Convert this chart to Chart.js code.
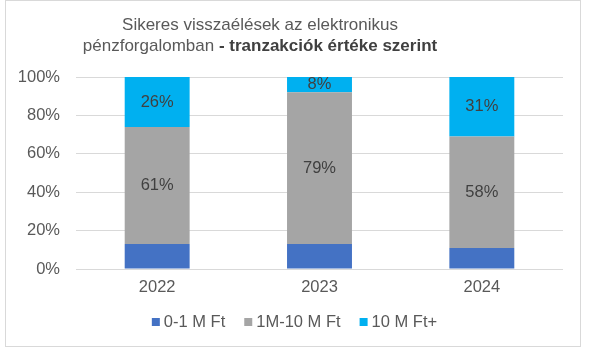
<!DOCTYPE html>
<html>
<head>
<meta charset="utf-8">
<script src="https://cdn.jsdelivr.net/npm/chart.js@4"></script>
<style>
  html, body { margin: 0; padding: 0; background: #fff; }
  #wrap { position: relative; width: 589px; height: 351px; }
</style>
</head>
<body>
<div id="wrap"><canvas id="c" width="589" height="351"></canvas></div>
<script>
const years = ['2022', '2023', '2024'];
const small = [13, 13, 11];
const middle = [61, 79, 58];
const large = [26, 8, 31];
const seriesNames = ['0-1 M Ft', '1M-10 M Ft', '10 M Ft+'];
const yTicks = [0, 20, 40, 60, 80, 100];

const FONT = "'Liberation Sans', Arial, sans-serif";
const SIZE = 16.5;

// border, two-part title and a compact legend
const frame = {
    id: 'frame',
    beforeDraw(chart) {
        const ctx = chart.ctx;
        ctx.save();
        ctx.fillStyle = '#fff';
        ctx.fillRect(0, 0, chart.width, chart.height);
        ctx.strokeStyle = '#d9d9d9';
        ctx.lineWidth = 1;
        ctx.strokeRect(5.5, 0.5, 575, 346);
        ctx.restore();
    },
    afterDraw(chart) {
        const ctx = chart.ctx;
        const cx = 260;
        ctx.save();
        ctx.fillStyle = '#595959';
        ctx.textBaseline = 'middle';
        ctx.textAlign = 'center';
        ctx.font = '17px ' + FONT;
        ctx.fillText('Sikeres visszaélések az elektronikus', cx, 25);
        const a = 'pénzforgalomban ';
        const b = '- tranzakciók értéke szerint';
        const wa = ctx.measureText(a).width;
        ctx.font = 'bold 17px ' + FONT;
        const wb = ctx.measureText(b).width;
        const x0 = cx - (wa + wb) / 2;
        ctx.textAlign = 'left';
        ctx.font = '17px ' + FONT;
        ctx.fillText(a, x0, 46);
        ctx.font = 'bold 17px ' + FONT;
        ctx.fillStyle = '#404040';
        ctx.fillText(b, x0 + wa, 46);

        // legend
        ctx.font = SIZE + 'px ' + FONT;
        const sets = chart.data.datasets;
        const widths = sets.map(d => 12 + ctx.measureText(d.label).width);
        const total = widths.reduce((s, w) => s + w, 0) + 19 * (sets.length - 1);
        let x = chart.width / 2 - total / 2;
        const ly = 322;
        sets.forEach((d, i) => {
            ctx.fillStyle = d.backgroundColor;
            ctx.fillRect(x, ly - 4, 8, 8);
            ctx.fillStyle = '#595959';
            ctx.fillText(d.label, x + 12, ly);
            x += widths[i] + 19;
        });
        ctx.restore();
    }
};

// value labels on the grey and cyan segments
const valueLabels = {
    id: 'valueLabels',
    afterDatasetsDraw(chart) {
        const ctx = chart.ctx;
        ctx.save();
        ctx.fillStyle = '#404040';
        ctx.font = SIZE + 'px ' + FONT;
        ctx.textAlign = 'center';
        ctx.textBaseline = 'middle';
        [1, 2].forEach(di => {
            const meta = chart.getDatasetMeta(di);
            meta.data.forEach((bar, i) => {
                const v = chart.data.datasets[di].data[i];
                ctx.fillText(v + '%', bar.x, (bar.y + bar.base) / 2);
            });
        });
        ctx.restore();
    }
};

new Chart(document.getElementById('c').getContext('2d'), {
    type: 'bar',
    data: {
        labels: years,
        datasets: [
            { label: seriesNames[0], backgroundColor: '#4472C4', data: small },
            { label: seriesNames[1], backgroundColor: '#A5A5A5', data: middle },
            { label: seriesNames[2], backgroundColor: '#00B0F0', data: large }
        ]
    },
    options: {
        responsive: false,
        animation: false,
        layout: { padding: { top: 77, right: 26, bottom: 52, left: 0 } },
        datasets: { bar: { categoryPercentage: 0.4, barPercentage: 1 } },
        plugins: {
            title: { display: false },
            tooltip: { enabled: false },
            legend: { display: false }
        },
        scales: {
            x: {
                stacked: true,
                grid: { display: false, drawTicks: false },
                border: { display: false },
                ticks: { color: '#595959', padding: 9, font: { family: FONT, size: SIZE } },
                afterFit(s) { s.height = 30; }
            },
            y: {
                stacked: true,
                min: 0, max: 100,
                afterBuildTicks(s) { s.ticks = yTicks.map(v => ({ value: v })); },
                grid: { color: '#d9d9d9', drawTicks: false },
                border: { display: false },
                ticks: {
                    color: '#595959', padding: 16,
                    font: { family: FONT, size: SIZE },
                    callback: v => v + '%'
                },
                afterFit(s) { s.width = 76; }
            }
        }
    },
    plugins: [frame, valueLabels]
});
</script>
</body>
</html>
